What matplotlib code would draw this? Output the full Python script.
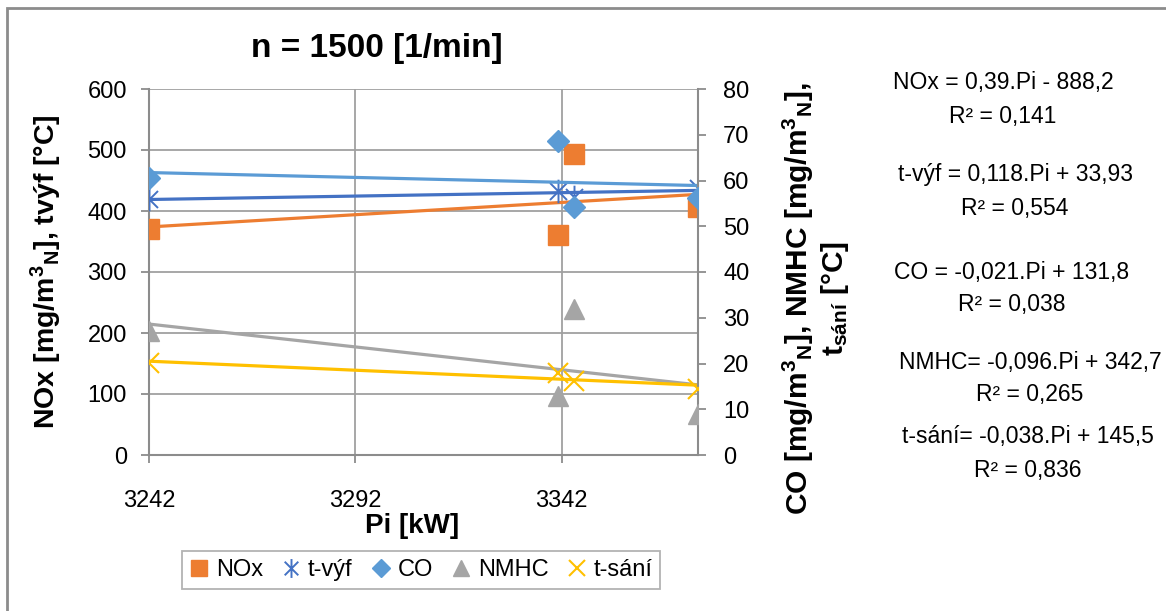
import matplotlib
matplotlib.use("Agg")
import matplotlib.pyplot as plt
import numpy as np
from matplotlib.path import Path
from matplotlib.lines import Line2D
from matplotlib.patches import Rectangle

# data
pi = [3242, 3341, 3345, 3375]
nox = [370, 360, 493, 407]
t_vyf = [420, 432, 423, 438]
co = [60.6, 68.7, 54.3, 56.2]
nmhc = [27, 13, 32, 9]
t_sani = [20.2, 18.0, 16.2, 14.4]

x_ticks = [3242, 3292, 3342]
left_ticks = [0, 100, 200, 300, 400, 500, 600]
right_ticks = [0, 10, 20, 30, 40, 50, 60, 70, 80]

equations = [
    ("NOx = 0,39.Pi - 888,2", "R² = 0,141"),
    ("t-výf = 0,118.Pi + 33,93", "R² = 0,554"),
    ("CO = -0,021.Pi + 131,8", "R² = 0,038"),
    ("NMHC= -0,096.Pi + 342,7", "R² = 0,265"),
    ("t-sání= -0,038.Pi + 145,5", "R² = 0,836"),
]

plt.rcParams['font.family'] = ['Liberation Sans', 'DejaVu Sans']
plt.rcParams['mathtext.fontset'] = 'custom'
plt.rcParams['mathtext.rm'] = 'Liberation Sans'

grid_c = '#a0a0a0'
axis_c = '#8c8c8c'
W, H = 1166, 611

# excel-like asterisk marker
ast = Path([(0, -1), (0, 1), (-0.72, -0.72), (0.72, 0.72), (-0.72, 0.72), (0.72, -0.72)],
           [Path.MOVETO, Path.LINETO] * 3)

fig = plt.figure(figsize=(W / 100, H / 100), dpi=100)
ax = fig.add_axes([149 / W, 1 - 455 / H, (698 - 149) / W, (455 - 89) / H])
ax2 = ax.twinx()

series = [
    (ax, nox, '#ED7D31', dict(marker='s', ms=14), 'NOx'),
    (ax, t_vyf, '#4472C4', dict(marker=ast, ms=17, mfc='none', mew=1.4), 't-výf'),
    (ax2, co, '#5B9BD5', dict(marker='D', ms=11.5), 'CO'),
    (ax2, nmhc, '#A5A5A5', dict(marker='^', ms=14), 'NMHC'),
    (ax2, t_sani, '#FFC000', dict(marker='x', ms=14, mew=1.5), 't-sání'),
]

handles = []
for a, ys, c, mk, name in series:
    a.plot(pi, ys, ls='none', color=c, mec=c, zorder=3, **mk)
    k, q = np.polyfit(pi, ys, 1)
    xs = np.array([min(pi), max(pi)])
    a.plot(xs, k * xs + q, color=c, lw=2.3, zorder=2)
    lmk = dict(mk)
    lmk['ms'] = mk['ms'] * 0.8
    handles.append(Line2D([], [], ls='none', color=c, mec=c, label=name, **lmk))

ax.set_xlim(3242, 3375)
ax.set_ylim(0, 600)
ax2.set_ylim(0, 80)
ax.set_xticks(x_ticks)
ax.set_yticks(left_ticks)
ax2.set_yticks(right_ticks)
ax.grid(True, color=grid_c, lw=1.3)
ax.set_axisbelow(True)

for a in (ax, ax2):
    for s in a.spines.values():
        s.set_visible(False)
for s in (ax.spines['left'], ax.spines['bottom'], ax2.spines['right']):
    s.set_visible(True)
    s.set_color(axis_c)
    s.set_linewidth(1.5)

ax.tick_params(axis='both', direction='out', length=6, width=1.3, color=axis_c,
               labelsize=17)
ax.tick_params(axis='x', pad=19)
ax.tick_params(axis='y', pad=10)
ax2.tick_params(axis='y', direction='out', length=6, width=1.3, color=axis_c,
                labelsize=17, pad=12)

fig.text(377 / W, 1 - 48 / H, 'n = 1500 [1/min]', ha='center', va='center',
         fontsize=24, fontweight='bold')

ax.set_xlabel('Pi [kW]', fontsize=20, fontweight='bold')
ax.xaxis.set_label_coords((412 - 149) / 549, (455 - 526) / 366)
ax.xaxis.label.set_va('center')

ax.set_ylabel(r'NOx [mg/m$\mathregular{^3}$$\mathregular{_N}$], tvýf [°C]',
              fontsize=20.5, fontweight='bold')
ax.yaxis.set_label_coords((64 - 149) / 549, (455 - 272) / 366)

ax2.set_ylabel('CO [mg/m$\\mathregular{^3}$$\\mathregular{_N}$], NMHC [mg/m$\\mathregular{^3}$$\\mathregular{_N}$],\n'
               't$\\mathregular{_{sání}}$ [°C]',
               fontsize=21.5, fontweight='bold', linespacing=1.12)
ax2.yaxis.set_label_coords((781 - 149) / 549, (455 - 299) / 366)

# trendline equations
eq_x = [1003, 1015, 1012, 1030, 1028]
eq_y = [83, 175, 272, 362, 437]
for (eq, r2), ex, ey in zip(equations, eq_x, eq_y):
    fig.text(ex / W, 1 - ey / H, eq, ha='center', va='center', fontsize=16.5)
    fig.text(ex / W, 1 - (ey + 33) / H, r2, ha='center', va='center', fontsize=16.5)

leg = fig.legend(handles=handles, loc='center', bbox_to_anchor=(421 / W, 1 - 570 / H),
                 ncol=5, fontsize=17, frameon=True, fancybox=False, handlelength=0.8,
                 handletextpad=0.3, columnspacing=0.8, borderpad=0.35)
leg.get_frame().set_edgecolor('#a0a0a0')
leg.get_frame().set_linewidth(1.3)

# chart area border (only left/top visible in the crop)
fig.add_artist(Rectangle((7 / W, -0.1), 1.5, 1 - 8 / H + 0.1, transform=fig.transFigure,
                         fill=False, edgecolor='#8c8c8c', lw=2))

fig.savefig('out.png', dpi=100)
